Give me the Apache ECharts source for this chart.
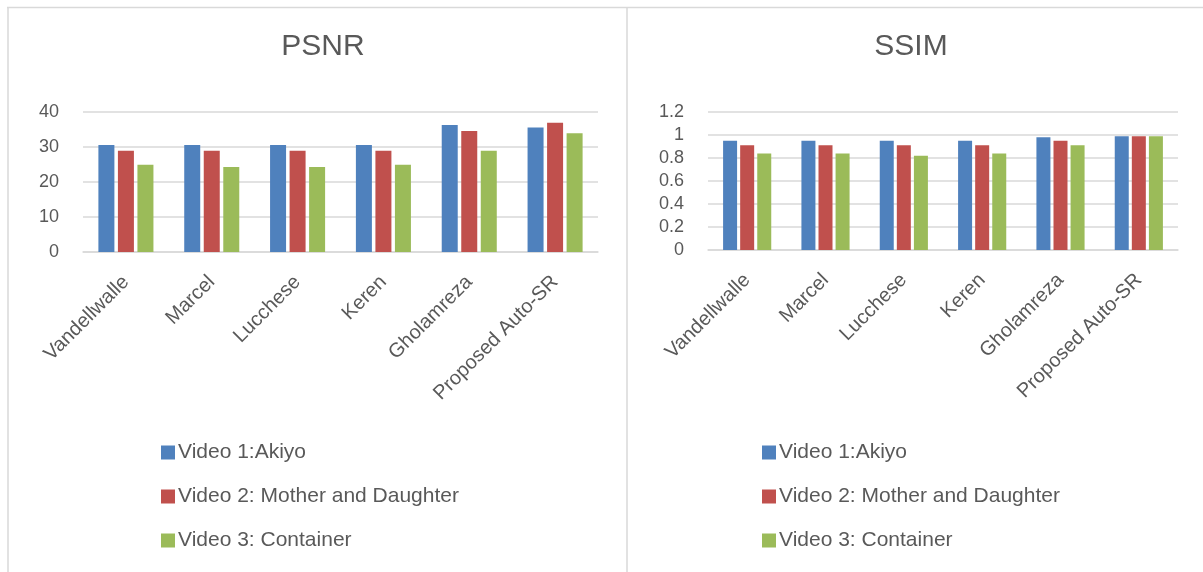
<!DOCTYPE html>
<html lang="en">

<head>
    <meta charset="UTF-8">
    <title>PSNR / SSIM</title>
    <style>
        html,
        body {
            height: 100%;
            width: 100%;
            margin: 0;
            padding: 0;
            background: #fff;
        }
    </style>
</head>

<body>
    <div id="main" style="width: 1203px;height:572px;"></div>
    <script src="https://cdn.jsdelivr.net/npm/echarts@6/dist/echarts.min.js"></script>
    <script type="text/javascript">
        var categories = ['Vandellwalle', 'Marcel', 'Lucchese', 'Keren', 'Gholamreza', 'Proposed Auto-SR'];
        var seriesNames = ['Video 1:Akiyo', 'Video 2: Mother and Daughter', 'Video 3: Container'];

        var psnrAkiyo = [30.6, 30.6, 30.6, 30.6, 36.3, 35.6];
        var psnrMother = [28.9, 28.9, 28.9, 28.9, 34.6, 36.9];
        var psnrContainer = [24.9, 24.3, 24.3, 24.9, 28.9, 33.9];

        var ssimAkiyo = [0.95, 0.95, 0.95, 0.95, 0.98, 0.99];
        var ssimMother = [0.91, 0.91, 0.91, 0.91, 0.95, 0.99];
        var ssimContainer = [0.84, 0.84, 0.82, 0.84, 0.91, 0.99];

        var colors = ['#4F81BD', '#C0504D', '#9BBB59'];
        var font = 'Liberation Sans';
        var grey = '#595959';
        var lineGrey = '#d9d9d9';

        var myChart = echarts.init(document.getElementById('main'));

        function xAxis(idx) {
            return {
                type: 'category',
                gridIndex: idx,
                data: categories,
                axisTick: { show: false },
                axisLine: { lineStyle: { color: lineGrey, width: 1.5 } },
                axisLabel: {
                    rotate: 45,
                    interval: 0,
                    margin: 27,
                    color: grey,
                    fontFamily: font,
                    fontSize: 20
                }
            };
        }

        function yAxis(idx, max, interval, margin) {
            return {
                type: 'value',
                gridIndex: idx,
                min: 0,
                max: max,
                interval: interval,
                axisLine: { show: false },
                axisTick: { show: false },
                splitLine: { lineStyle: { color: lineGrey, width: 1.5 } },
                axisLabel: {
                    margin: margin,
                    color: grey,
                    fontFamily: font,
                    fontSize: 18
                }
            };
        }

        function bars(name, data, idx, color, width) {
            return {
                name: name,
                type: 'bar',
                xAxisIndex: idx,
                yAxisIndex: idx,
                data: data,
                barWidth: width,
                barGap: '22%',
                itemStyle: { color: color },
                silent: true
            };
        }

        function legend(left) {
            return {
                orient: 'vertical',
                left: left,
                top: 437,
                itemWidth: 14,
                itemHeight: 14,
                itemGap: 23,
                itemStyle: { borderWidth: 0 },
                icon: 'rect',
                data: seriesNames,
                textStyle: { color: grey, fontFamily: font, fontSize: 21, padding: [0, 0, 0, -2] }
            };
        }

        option = {
            color: colors,
            animation: false,
            title: [
                {
                    text: 'PSNR',
                    left: 318,
                    top: 27,
                    textAlign: 'center',
                    textStyle: { color: grey, fontFamily: font, fontSize: 30, fontWeight: 'normal' }
                },
                {
                    text: 'SSIM',
                    left: 906,
                    top: 27,
                    textAlign: 'center',
                    textStyle: { color: grey, fontFamily: font, fontSize: 30, fontWeight: 'normal' }
                }
            ],
            legend: [legend(156), legend(757)],
            grid: [
                { left: 83, right: 605, top: 112, bottom: 320 },
                { left: 708, right: 25, top: 112, bottom: 322 }
            ],
            xAxis: [xAxis(0), xAxis(1)],
            yAxis: [yAxis(0, 40, 10, 24), yAxis(1, 1.2, 0.2, 24)],
            series: [
                bars(seriesNames[0], psnrAkiyo, 0, colors[0], 16),
                bars(seriesNames[1], psnrMother, 0, colors[1], 16),
                bars(seriesNames[2], psnrContainer, 0, colors[2], 16),
                bars(seriesNames[0], ssimAkiyo, 1, colors[0], 14),
                bars(seriesNames[1], ssimMother, 1, colors[1], 14),
                bars(seriesNames[2], ssimContainer, 1, colors[2], 14)
            ],
            // panel frames
            graphic: [
                { type: 'line', shape: { x1: 7, y1: 7.5, x2: 1203, y2: 7.5 }, style: { stroke: lineGrey, lineWidth: 1.5 } },
                { type: 'line', shape: { x1: 8, y1: 7, x2: 8, y2: 572 }, style: { stroke: lineGrey, lineWidth: 1.5 } },
                { type: 'line', shape: { x1: 627, y1: 7, x2: 627, y2: 572 }, style: { stroke: lineGrey, lineWidth: 1.5 } }
            ]
        };
        myChart.setOption(option);
    </script>
</body>

</html>
